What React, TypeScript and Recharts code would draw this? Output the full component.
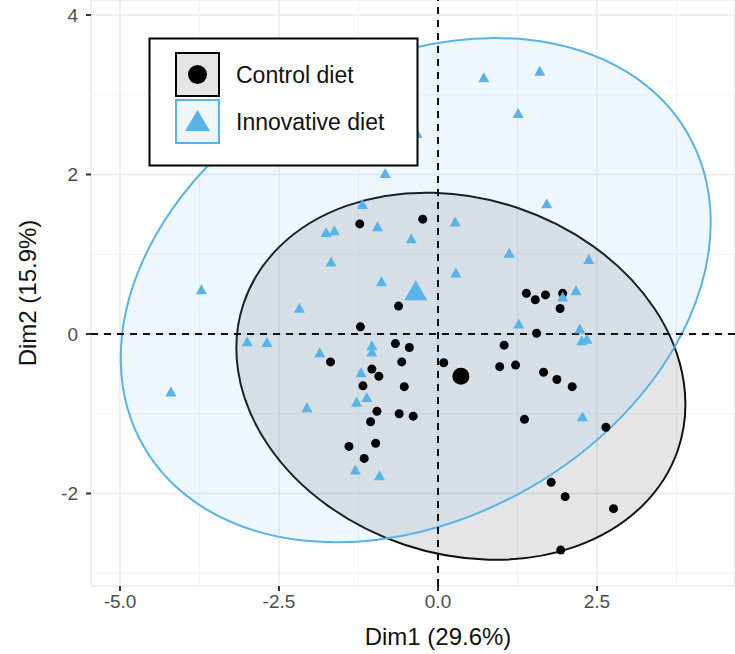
import * as R from "recharts";
import {
  ScatterChart,
  Scatter,
  XAxis,
  YAxis,
  CartesianGrid,
  ReferenceLine,
  Customized,
  Legend,
} from "recharts";

const FONT = "'Liberation Sans', Arial, sans-serif";
const BLUE = "#56B4E9";

const groups = ["Control diet", "Innovative diet"];

const controlPoints = [
  { x: -1.23, y: 1.38 }, { x: -0.24, y: 1.44 }, { x: -0.62, y: 0.35 }, { x: -1.22, y: 0.09 },
  { x: 1.39, y: 0.51 }, { x: 1.53, y: 0.43 }, { x: 1.69, y: 0.49 }, { x: 1.96, y: 0.51 },
  { x: 1.92, y: 0.32 }, { x: -0.67, y: -0.12 }, { x: -0.45, y: -0.17 }, { x: 1.55, y: 0.01 },
  { x: -1.69, y: -0.35 }, { x: -0.57, y: -0.35 }, { x: 0.09, y: -0.36 }, { x: 1.04, y: -0.14 },
  { x: -1.04, y: -0.44 }, { x: -0.93, y: -0.53 }, { x: 0.97, y: -0.41 }, { x: 1.22, y: -0.39 },
  { x: -1.18, y: -0.65 }, { x: -0.53, y: -0.66 }, { x: 1.66, y: -0.48 }, { x: 1.87, y: -0.57 },
  { x: 2.11, y: -0.66 }, { x: -0.96, y: -0.97 }, { x: -0.61, y: -1.0 }, { x: -0.39, y: -1.03 },
  { x: -1.06, y: -1.1 }, { x: 1.36, y: -1.07 }, { x: 2.64, y: -1.17 }, { x: -1.4, y: -1.41 },
  { x: -0.98, y: -1.37 }, { x: -1.16, y: -1.56 }, { x: 1.78, y: -1.86 }, { x: 2.0, y: -2.04 },
  { x: 2.76, y: -2.19 }, { x: 1.93, y: -2.71 },
];

const innovativePoints = [
  { x: -1.19, y: 1.63 }, { x: -0.95, y: 1.35 }, { x: -1.76, y: 1.28 }, { x: -1.63, y: 1.3 },
  { x: 0.27, y: 1.41 }, { x: -0.42, y: 1.2 }, { x: -1.68, y: 0.91 }, { x: 0.28, y: 0.77 },
  { x: -0.89, y: 0.66 }, { x: -2.18, y: 0.33 }, { x: -3.0, y: -0.09 }, { x: -2.69, y: -0.1 },
  { x: -1.04, y: -0.14 }, { x: -1.04, y: -0.22 }, { x: -1.86, y: -0.23 }, { x: -1.21, y: -0.48 },
  { x: -1.12, y: -0.79 }, { x: -1.28, y: -0.85 }, { x: -2.06, y: -0.92 }, { x: -1.3, y: -1.7 },
  { x: -0.92, y: -1.77 }, { x: -3.72, y: 0.56 }, { x: -4.2, y: -0.72 }, { x: 1.12, y: 1.02 },
  { x: 2.37, y: 0.94 }, { x: 2.17, y: 0.55 }, { x: 1.96, y: 0.47 }, { x: 1.27, y: 0.13 },
  { x: 2.23, y: 0.07 }, { x: 2.26, y: -0.08 }, { x: 2.34, y: -0.06 }, { x: 2.27, y: -1.03 },
  { x: 0.72, y: 3.22 }, { x: 1.6, y: 3.3 }, { x: 1.26, y: 2.77 }, { x: -0.33, y: 2.52 },
  { x: -0.83, y: 2.02 }, { x: 1.71, y: 1.64 },
];

const controlMean = [{ x: 0.36, y: -0.53 }];
const innovativeMean = [{ x: -0.35, y: 0.55 }];

// ellipse = centre + cos(t) * u + sin(t) * v, all in data units
const controlEllipse = { c: [0.36, -0.53], u: [3.417, -0.912], v: [-0.887, -2.113] };
const innovativeEllipse = { c: [-0.35, 0.55], u: [4.282, 1.956], v: [1.783, -2.483] };

const xDomain = [-5.456, 4.67];
const yDomain = [-3.16, 4.188];
const xTicks = [-5, -2.5, 0, 2.5];
const yTicks = [-2, 0, 2, 4];
const xMinor = [-3.75, -1.25, 1.25, 3.75];
const yMinor = [-3, -1, 1, 3];

const Dot = (r: number) => (p: any) => <circle cx={p.cx} cy={p.cy} r={r} fill="#000" />;

const Tri = (w: number, h: number) => (p: any) => (
  <polygon
    points={`${p.cx},${p.cy - h / 2} ${p.cx - w / 2},${p.cy + h / 2} ${p.cx + w / 2},${p.cy + h / 2}`}
    fill={BLUE}
  />
);

function usePixelScales() {
  const anyR = R as any;
  const plot = typeof anyR.usePlotArea === "function" ? anyR.usePlotArea() : null;
  const a = plot ?? { x: 91, y: 0, width: 644, height: 586 };
  const sx = (v: number) => a.x + ((v - xDomain[0]) / (xDomain[1] - xDomain[0])) * a.width;
  const sy = (v: number) => a.y + ((yDomain[1] - v) / (yDomain[1] - yDomain[0])) * a.height;
  return { sx, sy, a };
}

function EllipseShape({ e, fill, fillOpacity, stroke }: any) {
  const { sx, sy } = usePixelScales();
  const cx = sx(e.c[0]);
  const cy = sy(e.c[1]);
  const ux = sx(e.c[0] + e.u[0]) - cx;
  const uy = sy(e.c[1] + e.u[1]) - cy;
  const vx = sx(e.c[0] + e.v[0]) - cx;
  const vy = sy(e.c[1] + e.v[1]) - cy;
  return (
    <circle
      cx={0}
      cy={0}
      r={1}
      transform={`matrix(${ux},${uy},${vx},${vy},${cx},${cy})`}
      fill={fill}
      fillOpacity={fillOpacity}
      stroke={stroke}
      strokeWidth={2}
      vectorEffect="non-scaling-stroke"
    />
  );
}

// minor grid + ellipses, so the grid shows through the translucent fills
function Ellipses() {
  const { sx, sy, a } = usePixelScales();
  return (
    <g>
      {xMinor.map((v) => (
        <line key={"xm" + v} x1={sx(v)} x2={sx(v)} y1={a.y} y2={a.y + a.height} stroke="#F2F2F2" strokeWidth={1.2} />
      ))}
      {yMinor.map((v) => (
        <line key={"ym" + v} x1={a.x} x2={a.x + a.width} y1={sy(v)} y2={sy(v)} stroke="#F2F2F2" strokeWidth={1.2} />
      ))}
      <EllipseShape e={controlEllipse} fill="#000" fillOpacity={0.1} stroke="#111" />
      <EllipseShape e={innovativeEllipse} fill={BLUE} fillOpacity={0.1} stroke={BLUE} />
    </g>
  );
}

function LegendBox() {
  return (
    <svg width={272} height={131} style={{ display: "block" }} fontFamily={FONT}>
      <rect x={1.5} y={1.5} width={268} height={127} fill="#fff" stroke="#000" strokeWidth={2} />
      <rect x={28} y={16} width={43} height={43} fill="#e5e5e5" stroke="#000" strokeWidth={2} />
      <circle cx={49.5} cy={37.5} r={9.5} fill="#000" />
      <rect x={28} y={63} width={43} height={43} fill="#eef6fc" stroke={BLUE} strokeWidth={2} />
      <polygon points="49.5,73 37,94 62,94" fill={BLUE} />
      <text x={88} y={45.5} fontSize={23} fill="#111">{groups[0]}</text>
      <text x={88} y={93} fontSize={23} fill="#111">{groups[1]}</text>
    </svg>
  );
}

export default function App() {
  return (
    <div style={{ position: "absolute", left: 0, top: 0, background: "#fff" }}>
      <ScatterChart width={735} height={654} margin={{ top: 0, right: 0, bottom: 0, left: 0 }}>
        <CartesianGrid stroke="#EBEBEB" strokeWidth={1.5} />
        <XAxis
          type="number"
          dataKey="x"
          domain={xDomain}
          allowDataOverflow
          ticks={xTicks}
          interval={0}
          tickFormatter={(v: number) => v.toFixed(1)}
          height={68}
          axisLine={false}
          tickSize={5}
          tickMargin={4}
          tickLine={{ stroke: "#333", strokeWidth: 2 }}
          tick={{ fill: "#4D4D4D", fontSize: 19, fontFamily: FONT }}
          label={{ value: "Dim1 (29.6%)", position: "center", dx: 25, dy: 16, fontSize: 24, fill: "#111", fontFamily: FONT }}
        />
        <YAxis
          type="number"
          dataKey="y"
          domain={yDomain}
          allowDataOverflow
          ticks={yTicks}
          interval={0}
          width={91}
          axisLine={false}
          tickSize={5}
          tickMargin={8}
          tickLine={{ stroke: "#333", strokeWidth: 2 }}
          tick={{ fill: "#4D4D4D", fontSize: 19, fontFamily: FONT }}
          label={{ value: "Dim2 (15.9%)", angle: -90, position: "center", dx: -18, fontSize: 24, fill: "#111", fontFamily: FONT }}
        />
        <Customized component={<Ellipses />} />
        <ReferenceLine x={0} stroke="#111" strokeWidth={2} strokeDasharray="7 6" />
        <ReferenceLine y={0} stroke="#111" strokeWidth={2} strokeDasharray="7 6" />
        <Scatter name={groups[0]} data={controlPoints} shape={Dot(4.5)} isAnimationActive={false} />
        <Scatter name={groups[1]} data={innovativePoints} shape={Tri(11, 10)} isAnimationActive={false} />
        <Scatter data={controlMean} shape={Dot(8.5)} isAnimationActive={false} />
        <Scatter data={innovativeMean} shape={Tri(23, 20)} isAnimationActive={false} />
        <Legend
          layout="horizontal"
          align="center"
          verticalAlign="middle"
          content={() => <LegendBox />}
          wrapperStyle={{ position: "absolute", left: 148, top: 37, width: 272, height: 131 }}
        />
      </ScatterChart>
    </div>
  );
}
